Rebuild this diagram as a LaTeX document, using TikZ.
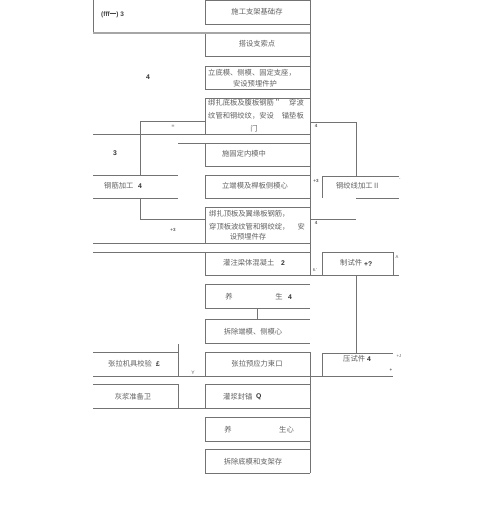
\documentclass[tikz,border=0pt]{standalone}
\usepackage{fontspec}
\setmainfont{Liberation Sans}
\newfontfamily\cjk{Noto Sans CJK SC}
\newfontfamily\dig{Liberation Sans}
\newfontfamily\dv{DejaVu Sans}
\tikzset{
  ln/.style={draw=black!55, line width=0.6pt},
  thk/.style={draw=black!35, line width=1.3pt},
  cj/.style={font=\cjk\fontsize{7.3}{9}\selectfont, text=black!62, inner sep=0pt},
  dg/.style={font=\dig\fontsize{6.8}{8}\selectfont\bfseries, text=black!80, inner sep=0pt},
  sm/.style={font=\dig\fontsize{4.2}{5}\selectfont, text=black!65, inner sep=0pt}
}
\begin{document}
\begin{tikzpicture}[x=1pt,y=-1pt]
\useasboundingbox (0,0) rectangle (500,515);
\fill[white] (0,0) rectangle (500,515);

% ---------- central column boxes (left, top, bottom edges) ----------
\draw[ln] (310,0) -- (205,0) -- (205,24) -- (310,24);          % B1
\draw[ln] (205,33) -- (205,56) -- (310,56);                    % B2
\draw[ln] (310,66) -- (205,66) -- (205,89) -- (310,89);        % B3
\draw[ln] (310,98) -- (205,98) -- (205,134);                   % B4
\draw[ln] (205,143) -- (205,166) -- (310,166);                 % B5
\draw[ln] (310,175) -- (205,175) -- (205,198) -- (310,198);    % B6
\draw[ln] (310,207) -- (205,207) -- (205,243);                 % B7
\draw[ln] (205,252) -- (205,275) -- (310,275);                 % B8
\draw[ln] (310,284) -- (205,284) -- (205,308) -- (310,308);    % B9
\draw[ln] (257,308) -- (257,319);                              % B9-B10
\draw[ln] (310,319) -- (205,319) -- (205,343) -- (310,343);    % B10
\draw[ln] (310,352) -- (205,352) -- (205,376);                 % B11
\draw[ln] (310,384) -- (205,384) -- (205,408);                 % B12
\draw[ln] (310,417) -- (205,417) -- (205,441) -- (310,441);    % B13
\draw[ln] (310,449) -- (205,449) -- (205,473) -- (310,473);    % B14

% right long vertical
\draw[ln] (310,0) -- (310,275);
\draw[ln] (310,352) -- (310,473);

% long horizontals
\draw[ln] (93,0) -- (93,33);
\draw[thk] (93,33) -- (310,33);
\draw[ln] (93,134) -- (310,134);
\draw[ln] (93,243) -- (310,243);
\draw[ln] (93,252) -- (310,252);
\draw[ln] (93,376) -- (310,376);
\draw[ln] (93,408) -- (310,408);
\draw[ln] (178,143) -- (310,143);

% left bracket and left boxes
\draw[ln] (205,121) -- (140,121) -- (140,175);
\draw[ln] (140,198) -- (140,219) -- (205,219);
\draw[ln] (93,175) -- (178,175);
\draw[ln] (93,198) -- (178,198);
\draw[ln] (93,352) -- (178,352);
\draw[ln] (178,344) -- (178,376);
\draw[ln] (93,384) -- (178,384) -- (178,408);

% right side structure
\draw[ln] (310,122) -- (356,122) -- (356,176);
\draw[ln] (399,176) -- (322,176) -- (322,198);
\draw[ln] (356,198) -- (399,198);
\draw[ln] (310,219) -- (356,219);
\draw[ln] (322,275) -- (322,252) -- (393,252) -- (393,275);
\draw[ln] (310,275) -- (399,275);
\draw[ln] (356,275) -- (356,353);
\draw[ln] (393,353) -- (322,353) -- (322,376);
\draw[ln] (310,376) -- (393,376);

% ---------- texts ----------
\node[font=\dig\fontsize{6.5}{8}\selectfont\bfseries, text=black!75, inner sep=0pt, anchor=west] (t0) at (101,15) {(fff{\cjk 一}) 3};
\node[cj] (t1) at (257,12) {施工支架基础存};
\node[cj] (t2) at (257,44) {搭设支索点};
\node[cj] (t3a) at (252,73) {立底模、侧模、固定支座，};
\node[cj] (t3b) at (255,84) {安设预埋件护};
\node[dg] (n4a) at (148,77) {4};
\node[cj, anchor=west] (t4a) at (208,103) {绑扎底板及腹板钢筋＂};
\node[cj, anchor=east] (t4b) at (304,103) {穿波};
\node[cj, anchor=west] (t4c) at (208,116) {纹管和钢绞纹，安设};
\node[cj, anchor=east] (t4d) at (304,116) {锚垫板};
\node[cj] (t4e) at (254,129) {门};
\node[font=\dv\fontsize{4}{5}\selectfont, text=black!55, inner sep=0pt] (s1) at (173,126) {≡};
\node[sm, font=\dig\fontsize{4.5}{5}\selectfont\bfseries] (s2) at (316,126) {4};
\node[dg] (n3) at (115,153) {3};
\node[cj] (t5) at (244,154) {施固定内模中};
\node[cj, anchor=west] (t6l) at (104,186) {钢筋加工};
\node[dg, anchor=west] (t6n) at (138,186) {4};
\node[cj] (t6) at (255,186) {立端模及桿板侧模心};
\node[sm, font=\dig\fontsize{4.5}{5}\selectfont\bfseries] (s3) at (316,181) {+3};
\node[cj] (t7) at (358,186) {钢绞线加工Ⅱ};
\node[sm] (s4) at (400,180) {'};
\node[cj, anchor=west] (t8a) at (209,214) {绑扎顶板及翼缘板钢筋，};
\node[cj, anchor=west] (t8b) at (209,227) {穿顶板波纹管和钢绞绽，};
\node[cj, anchor=east] (t8c) at (305,227) {安};
\node[cj] (t8d) at (248,237) {设预埋件存};
\node[sm, font=\dig\fontsize{4.5}{5}\selectfont\bfseries] (s5) at (173,230) {+3};
\node[sm, font=\dig\fontsize{4.5}{5}\selectfont\bfseries] (s6) at (316,223) {4};
\node[cj, anchor=west] (t9) at (223,263) {灌注梁体混凝土};
\node[dg, anchor=west] (t9n) at (281,263) {2};
\node[sm] (s7) at (315,270) {6.'};
\node[cj, anchor=west] (t10) at (340,263) {制试件};
\node[dg, anchor=west] (t10n) at (364,264) {+?};
\node[sm] (s8) at (397,257) {A};
\node[cj] (t11a) at (229,297) {养};
\node[cj] (t11b) at (279,297) {生};
\node[dg] (t11n) at (290,297) {4};
\node[cj] (t12) at (253,332) {拆除端模、侧模心};
\node[cj, anchor=west] (t13) at (108,364) {张拉机具校验};
\node[dg, anchor=west] (t13n) at (156,364) {£};
\node[cj] (t14) at (257,364) {张拉预应力束口};
\node[cj, anchor=west] (t15) at (343,359) {压试件};
\node[dg, anchor=west] (t15n) at (367,359) {4};
\node[sm] (s9) at (399,356) {+J};
\node[sm, font=\dig\fontsize{4.5}{5}\selectfont\bfseries] (s10) at (391,370) {+};
\node[sm, font=\dig\fontsize{5}{6}\selectfont] (s11) at (193,373) {Y};
\node[cj] (t16) at (133,397) {灰浆准备卫};
\node[cj, anchor=west] (t17) at (223,397) {灌浆封锚};
\node[dg, anchor=west] (t17n) at (256,397) {Q};
\node[cj] (t18a) at (228,430) {养};
\node[cj, anchor=west] (t18b) at (279,430) {生心};
\node[cj] (t19) at (253,462) {拆除底模和支架存};
\end{tikzpicture}
\end{document}
